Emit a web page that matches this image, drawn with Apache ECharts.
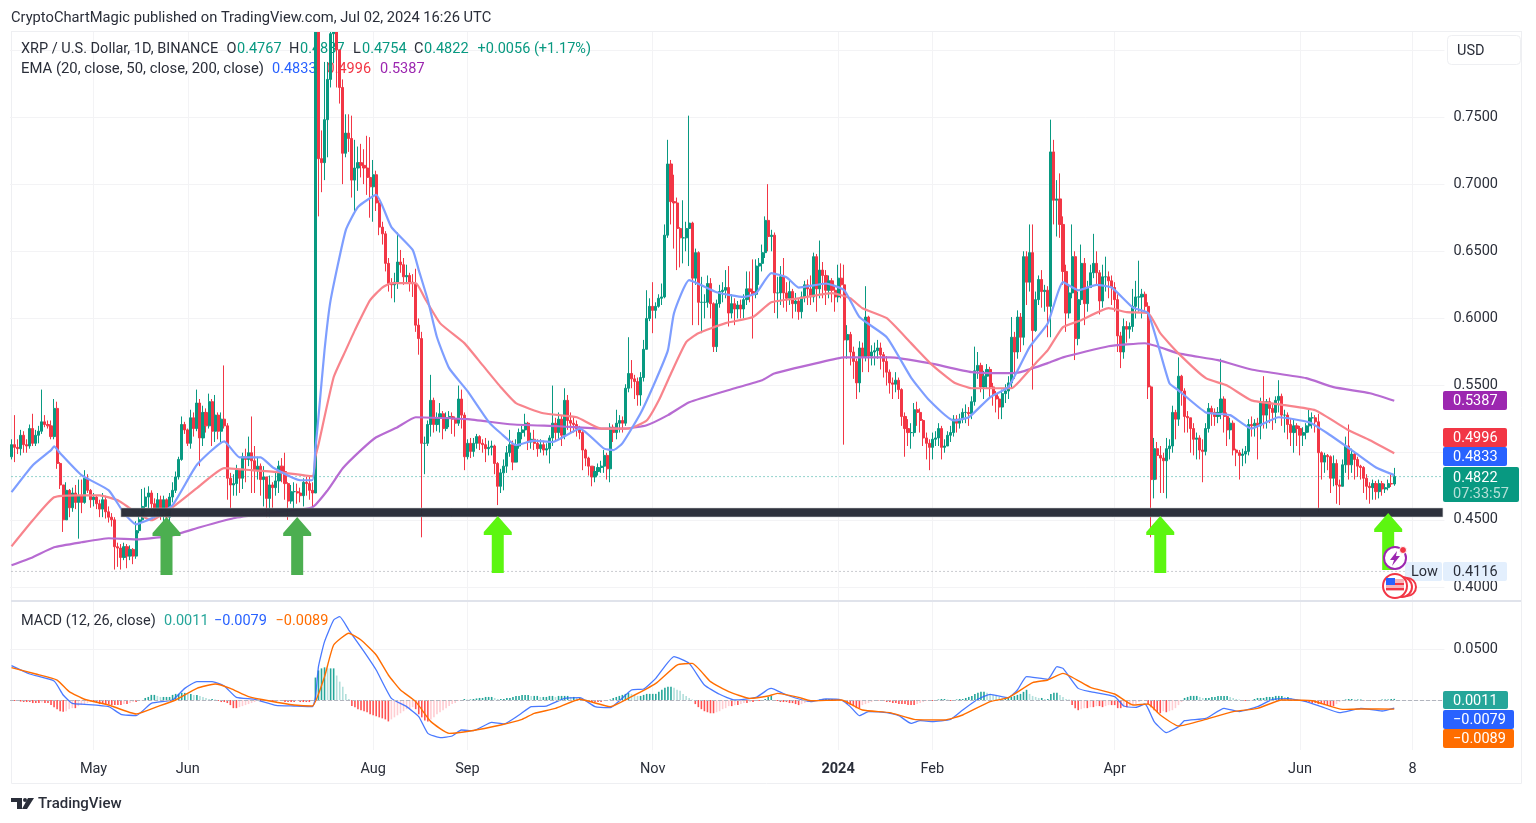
<!DOCTYPE html>
<html>
<head>
<meta charset="utf-8">
<title>XRP / U.S. Dollar</title>
<script src="https://cdn.jsdelivr.net/npm/echarts@6/dist/echarts.min.js"></script>
<style>
  html, body { margin: 0; padding: 0; background: #fff; }
  #chart { width: 1536px; height: 823px; }
</style>
</head>
<body>
<div id="chart"></div>
<script>
// tick dates on the time scale
const tickDates = ['2023-05-01','2023-06-01','2023-08-01','2023-09-01','2023-11-01','2024-01-01','2024-02-01','2024-04-01','2024-06-01','2024-07-08'];
const tickLabels = ['May','Jun','Aug','Sep','Nov','{y|2024}','Feb','Apr','Jun','8'];
const priceTicks = [0.40,0.45,0.50,0.55,0.60,0.65,0.70,0.75,0.80];
const priceLabels = [0.40,0.45,0.55,0.60,0.65,0.70,0.75];
const macdTicks = [0,0.05];

// daily candles, one entry per day from 2023-04-04 to 2024-07-02
const opens = [
.497,.506,.504,.503,.513,.506,.505,.518,.507,.513,
.516,.523,.521,.520,.512,.533,.492,.476,.450,.472,
.459,.470,.463,.468,.463,.481,.472,.465,.467,.462,
.458,.465,.456,.452,.450,.430,.429,.422,.430,.423,
.428,.423,.442,.450,.460,.467,.470,.462,.457,.465,
.455,.465,.452,.467,.472,.482,.495,.521,.517,.507,
.526,.518,.537,.511,.530,.520,.538,.516,.528,.516,
.525,.520,.481,.476,.477,.487,.481,.497,.495,.500,
.494,.487,.490,.480,.482,.466,.476,.474,.479,.490,
.486,.477,.464,.471,.471,.470,.468,.478,.477,.472,
.470,.815,.719,.716,.748,.778,.812,.830,.800,.772,
.723,.738,.734,.703,.712,.716,.714,.712,.705,.698,
.707,.686,.668,.663,.641,.626,.625,.627,.642,.640,
.631,.632,.627,.626,.595,.585,.507,.507,.521,.539,
.521,.526,.529,.518,.526,.527,.525,.522,.540,.528,
.497,.507,.501,.507,.512,.507,.506,.503,.504,.505,
.492,.475,.485,.490,.500,.506,.493,.505,.515,.517,
.522,.508,.510,.507,.503,.506,.502,.503,.511,.522,
.515,.525,.513,.539,.524,.522,.521,.518,.515,.502,
.496,.490,.482,.486,.489,.490,.498,.488,.519,.515,
.522,.524,.522,.548,.559,.555,.553,.543,.556,.577,
.600,.609,.606,.609,.615,.616,.662,.715,.687,.686,
.667,.660,.660,.667,.671,.630,.649,.612,.612,.612,
.626,.611,.579,.611,.620,.621,.623,.604,.611,.607,
.610,.607,.614,.622,.620,.618,.639,.641,.649,.673,
.661,.662,.619,.619,.631,.619,.615,.620,.611,.613,
.605,.616,.625,.622,.616,.646,.622,.636,.632,.621,
.628,.621,.616,.630,.625,.584,.588,.575,.568,.552,
.578,.571,.601,.572,.575,.576,.578,.573,.568,.560,
.552,.551,.554,.547,.527,.518,.515,.515,.532,.530,
.524,.511,.507,.504,.510,.511,.518,.504,.505,.513,
.515,.525,.522,.525,.530,.530,.529,.538,.561,.565,
.549,.557,.562,.549,.544,.540,.534,.544,.546,.552,
.586,.575,.601,.586,.646,.627,.649,.591,.614,.629,
.620,.621,.609,.724,.688,.689,.670,.635,.604,.619,
.646,.585,.614,.641,.611,.623,.634,.641,.634,.613,
.631,.631,.628,.623,.614,.587,.575,.594,.592,.594,
.609,.616,.616,.618,.609,.549,.480,.503,.498,.496,
.494,.503,.505,.530,.525,.557,.546,.527,.526,.518,
.510,.511,.502,.501,.518,.533,.530,.527,.530,.540,
.527,.517,.522,.502,.500,.498,.499,.501,.521,.520,
.522,.520,.538,.528,.538,.533,.530,.539,.542,.528,
.528,.521,.515,.520,.518,.513,.515,.520,.526,.526,
.523,.500,.493,.498,.497,.481,.492,.476,.475,.491,
.505,.491,.499,.495,.490,.489,.481,.475,.474,.477,
.471,.477,.473,.474,.477,.4767];
const closes = [
.506,.504,.503,.513,.506,.505,.518,.507,.513,.516,
.523,.521,.520,.512,.533,.492,.476,.450,.472,.459,
.470,.463,.468,.463,.481,.472,.465,.467,.462,.458,
.465,.456,.452,.450,.430,.429,.422,.430,.423,.428,
.423,.442,.450,.460,.467,.470,.462,.457,.465,.455,
.465,.452,.467,.472,.482,.495,.521,.517,.507,.526,
.518,.537,.511,.530,.520,.538,.516,.528,.516,.525,
.520,.481,.476,.477,.487,.481,.497,.495,.500,.494,
.487,.490,.480,.482,.466,.476,.474,.479,.490,.486,
.477,.464,.471,.471,.470,.468,.478,.477,.472,.470,
.815,.719,.716,.748,.778,.812,.830,.800,.772,.723,
.738,.734,.703,.712,.716,.714,.712,.705,.698,.707,
.686,.668,.663,.641,.626,.625,.627,.642,.640,.631,
.632,.627,.626,.595,.585,.507,.507,.521,.539,.521,
.526,.529,.518,.526,.527,.525,.522,.540,.528,.497,
.507,.501,.507,.512,.507,.506,.503,.504,.505,.492,
.475,.485,.490,.500,.506,.493,.505,.515,.517,.522,
.508,.510,.507,.503,.506,.502,.503,.511,.522,.515,
.525,.513,.539,.524,.522,.521,.518,.515,.502,.496,
.490,.482,.486,.489,.490,.498,.488,.519,.515,.522,
.524,.522,.548,.559,.555,.553,.543,.556,.577,.600,
.609,.606,.609,.615,.616,.662,.715,.687,.686,.667,
.660,.660,.667,.671,.630,.649,.612,.612,.612,.626,
.611,.579,.611,.620,.621,.623,.604,.611,.607,.610,
.607,.614,.622,.620,.618,.639,.641,.649,.673,.661,
.662,.619,.619,.631,.619,.615,.620,.611,.613,.605,
.616,.625,.622,.616,.646,.622,.636,.632,.621,.628,
.621,.616,.630,.625,.584,.588,.575,.568,.552,.578,
.571,.601,.572,.575,.576,.578,.573,.568,.560,.552,
.551,.554,.547,.527,.518,.515,.515,.532,.530,.524,
.511,.507,.504,.510,.511,.518,.504,.505,.513,.515,
.525,.522,.525,.530,.530,.529,.538,.561,.565,.549,
.557,.562,.549,.544,.540,.534,.544,.546,.552,.586,
.575,.601,.586,.646,.627,.649,.591,.614,.629,.620,
.621,.609,.724,.688,.689,.670,.635,.604,.619,.646,
.585,.614,.641,.611,.623,.634,.641,.634,.613,.631,
.631,.628,.623,.614,.587,.575,.594,.592,.594,.609,
.616,.616,.618,.609,.549,.480,.503,.498,.496,.494,
.503,.505,.530,.525,.557,.546,.527,.526,.518,.510,
.511,.502,.501,.518,.533,.530,.527,.530,.540,.527,
.517,.522,.502,.500,.498,.499,.501,.521,.520,.522,
.520,.538,.528,.538,.533,.530,.539,.542,.528,.528,
.521,.515,.520,.518,.513,.515,.520,.526,.526,.523,
.500,.493,.498,.497,.481,.492,.476,.475,.491,.505,
.491,.499,.495,.490,.489,.481,.475,.474,.477,.471,
.477,.473,.474,.477,.4767,.4822];
const highs = [
.510,.528,.510,.517,.516,.510,.521,.529,.517,.520,
.547,.528,.524,.524,.540,.538,.493,.476,.478,.473,
.474,.476,.480,.480,.487,.484,.473,.470,.468,.465,
.470,.468,.460,.455,.452,.433,.432,.433,.432,.431,
.429,.449,.457,.473,.474,.475,.472,.466,.470,.468,
.468,.466,.470,.478,.486,.497,.527,.523,.518,.532,
.530,.547,.540,.535,.533,.544,.540,.543,.530,.530,
.565,.522,.485,.484,.491,.487,.500,.503,.512,.527,
.505,.497,.492,.490,.482,.483,.478,.485,.494,.496,
.500,.478,.476,.478,.477,.474,.481,.482,.482,.478,
.938,.860,.740,.791,.791,.830,.850,.845,.800,.778,
.752,.752,.751,.733,.728,.730,.726,.736,.735,.718,
.710,.688,.672,.665,.645,.630,.634,.664,.651,.645,
.640,.634,.633,.637,.600,.590,.512,.524,.558,.541,
.530,.537,.531,.530,.531,.530,.527,.550,.547,.530,
.510,.511,.511,.514,.513,.510,.511,.509,.509,.506,
.493,.488,.495,.505,.517,.509,.510,.518,.520,.529,
.523,.515,.517,.510,.510,.509,.507,.513,.550,.526,
.530,.528,.548,.543,.530,.527,.524,.520,.516,.503,
.497,.490,.490,.492,.494,.502,.500,.522,.521,.532,
.528,.527,.551,.586,.569,.558,.556,.560,.584,.621,
.615,.627,.612,.618,.626,.670,.733,.718,.707,.690,
.668,.688,.672,.751,.672,.652,.650,.631,.618,.632,
.630,.612,.614,.625,.627,.636,.639,.618,.615,.613,
.614,.618,.635,.635,.644,.644,.645,.655,.676,.700,
.666,.664,.631,.639,.645,.627,.628,.622,.619,.615,
.620,.628,.629,.632,.649,.648,.658,.642,.636,.632,
.630,.625,.640,.641,.640,.595,.590,.579,.570,.583,
.582,.624,.602,.580,.582,.584,.582,.575,.572,.562,
.556,.560,.556,.548,.530,.525,.522,.537,.538,.533,
.525,.515,.510,.515,.516,.522,.520,.510,.516,.520,
.528,.528,.529,.533,.536,.534,.542,.579,.575,.567,
.561,.566,.564,.552,.546,.542,.547,.551,.557,.601,
.590,.606,.604,.650,.650,.670,.670,.620,.632,.636,
.625,.624,.748,.733,.703,.708,.676,.640,.625,.670,
.650,.620,.655,.645,.628,.640,.663,.650,.636,.640,
.646,.635,.632,.627,.618,.590,.600,.598,.597,.622,
.628,.643,.622,.620,.612,.550,.511,.508,.505,.500,
.511,.510,.535,.532,.571,.558,.548,.531,.526,.522,
.515,.513,.510,.522,.537,.535,.533,.534,.570,.542,
.530,.526,.524,.503,.502,.503,.505,.525,.527,.525,
.526,.541,.557,.540,.541,.536,.542,.554,.544,.532,
.530,.525,.525,.522,.520,.519,.522,.532,.530,.528,
.529,.501,.500,.499,.498,.498,.495,.480,.495,.512,
.521,.503,.500,.497,.491,.490,.484,.478,.480,.479,
.480,.479,.477,.480,.484,.4887];
const lows = [
.495,.493,.499,.498,.500,.500,.503,.505,.505,.507,
.514,.519,.518,.510,.510,.488,.473,.441,.450,.452,
.456,.458,.436,.455,.462,.470,.459,.460,.458,.452,
.452,.451,.448,.445,.413,.415,.413,.420,.414,.420,
.417,.421,.440,.448,.455,.458,.456,.450,.455,.450,
.449,.447,.445,.463,.470,.480,.494,.514,.505,.503,
.512,.516,.490,.505,.515,.518,.505,.508,.510,.508,
.518,.465,.458,.468,.468,.470,.473,.478,.490,.470,
.470,.480,.468,.460,.452,.452,.459,.468,.470,.478,
.465,.450,.462,.458,.462,.463,.460,.468,.465,.458,
.470,.676,.694,.703,.720,.772,.790,.772,.760,.700,
.720,.724,.690,.680,.695,.705,.700,.692,.675,.672,
.680,.662,.655,.635,.620,.615,.612,.622,.634,.625,
.627,.620,.616,.590,.573,.437,.484,.505,.512,.515,
.516,.515,.510,.516,.519,.514,.512,.520,.518,.487,
.495,.496,.497,.503,.502,.500,.493,.498,.498,.484,
.461,.470,.472,.485,.497,.487,.493,.503,.510,.512,
.502,.503,.502,.497,.500,.498,.498,.492,.505,.508,
.510,.505,.510,.517,.515,.515,.512,.510,.487,.490,
.483,.475,.478,.483,.485,.485,.480,.478,.508,.510,
.515,.515,.520,.545,.548,.540,.535,.535,.553,.577,
.598,.589,.600,.608,.610,.615,.660,.670,.652,.636,
.638,.641,.650,.639,.595,.625,.595,.589,.600,.608,
.600,.575,.575,.608,.612,.615,.594,.600,.595,.600,
.600,.600,.610,.612,.585,.615,.625,.635,.645,.650,
.650,.604,.600,.610,.608,.605,.610,.600,.605,.599,
.600,.612,.610,.610,.612,.605,.615,.615,.610,.615,
.612,.605,.612,.615,.506,.570,.565,.555,.540,.545,
.560,.568,.560,.565,.565,.570,.562,.556,.550,.544,
.540,.545,.540,.520,.497,.505,.503,.512,.520,.515,
.505,.495,.487,.495,.505,.505,.495,.500,.505,.508,
.512,.515,.518,.522,.522,.520,.525,.535,.555,.545,
.540,.548,.540,.535,.530,.525,.525,.537,.540,.548,
.555,.570,.575,.580,.610,.620,.547,.590,.610,.608,
.605,.586,.586,.670,.661,.660,.625,.590,.600,.615,
.569,.580,.610,.595,.605,.625,.630,.625,.603,.608,
.620,.615,.610,.605,.575,.563,.570,.582,.585,.590,
.600,.605,.600,.605,.540,.437,.466,.480,.470,.470,
.466,.495,.500,.510,.520,.535,.515,.515,.500,.498,
.495,.495,.478,.498,.515,.520,.520,.522,.525,.515,
.505,.510,.498,.490,.480,.490,.492,.498,.512,.512,
.495,.510,.518,.518,.522,.517,.522,.530,.520,.515,
.510,.505,.500,.505,.498,.505,.510,.515,.518,.515,
.456,.480,.485,.487,.470,.475,.462,.461,.475,.485,
.480,.485,.480,.482,.480,.470,.465,.462,.465,.465,
.466,.468,.470,.472,.4745,.4754];

// EMA lines, read at the day offsets listed beside them
const ema20Days = [0,7,13,14,16,23,32,37,41,46,53,61,70,75,82,86,95,99,100,101,103,105,110,114,120,125,132,134,137,140,144,150,157,161,166,172,178,187,195,198,201,207,212,216,218,223,232,241,245,250,255,259,268,274,279,288,296,302,310,315,322,328,335,341,346,351,357,362,369,374,381,384,393,401,408,417,427,433,442,449,455];
const ema20 = [.4706,.4907,.5019,.5048,.4996,.4833,.472,.455,.4467,.451,.461,.491,.5085,.4966,.4966,.489,.4795,.4795,.503,.5264,.5764,.6136,.6658,.683,.692,.668,.651,.636,.6136,.586,.563,.546,.523,.5145,.5056,.509,.508,.518,.503,.5019,.507,.5294,.554,.5764,.604,.6285,.6195,.616,.6188,.6337,.6307,.623,.626,.621,.601,.586,.556,.539,.524,.5264,.5413,.5488,.5786,.5965,.627,.621,.625,.623,.608,.604,.5518,.5465,.53,.528,.518,.5264,.5227,.5145,.5003,.489,.4833];
const ema50Days = [0,7,14,22,29,35,40,46,53,61,70,79,88,99,100,101,106,110,113,118,122,125,133,136,141,149,155,161,166,175,186,194,203,209,213,217,222,226,235,244,250,259,270,276,280,288,296,303,310,316,329,332,337,341,346,352,361,367,374,378,384,393,400,408,419,429,440,447,455];
const ema50 = [.4303,.4497,.4668,.4683,.4683,.4646,.457,.4497,.4594,.4736,.4885,.487,.4855,.4825,.497,.506,.5562,.5764,.5913,.6136,.623,.6263,.6263,.615,.5965,.5816,.5652,.5488,.5369,.5294,.5264,.518,.518,.524,.539,.559,.5823,.589,.5965,.601,.612,.615,.6188,.615,.6076,.6002,.5816,.5652,.5525,.548,.548,.554,.5667,.5764,.5935,.5987,.6076,.6047,.604,.589,.574,.5555,.55,.539,.5354,.5316,.5167,.5093,.4996];
const ema200Days = [0,7,14,23,32,42,53,62,73,84,99,104,109,115,120,127,133,150,164,180,194,202,209,216,223,238,247,251,265,274,289,302,316,328,332,341,346,361,373,384,397,408,426,435,447,455];
const ema200 = [.4162,.4222,.4296,.4333,.4363,.4355,.4385,.4445,.4512,.4549,.4594,.472,.4884,.5019,.5115,.519,.5264,.525,.5212,.5197,.518,.518,.5205,.528,.5376,.548,.554,.559,.5667,.571,.571,.5667,.56,.5592,.56,.5667,.571,.5793,.5815,.574,.5689,.562,.5555,.5488,.5443,.5387];

// MACD lines
const macdDays = [0,6,14,17,20,24,32,36,41,46,53,57,61,66,70,74,80,87,93,99,100,101,103,106,108,111,116,120,125,130,134,137,141,145,148,152,158,162,167,171,176,182,187,192,197,204,208,212,218,223,228,233,238,245,249,250,255,263,268,273,276,279,282,288,292,296,299,303,309,313,318,322,328,331,334,341,344,346,351,355,363,366,370,373,376,380,384,386,393,399,404,410,415,420,426,431,437,444,451,455];
const macdLine = [.0337,.0255,.0186,.0049,-.0033,-.0042,-.0065,-.014,-.0154,-.0033,0,.0114,.018,.018,.0137,.0026,.0007,-.0052,-.0059,-.0065,.002,.0327,.0572,.0784,.0817,.0686,.0474,.0294,.0016,-.0065,-.0163,-.0327,-.0369,-.0353,-.0294,-.0301,-.0219,-.0235,-.0147,-.0065,-.0059,.0016,.0023,-.0065,-.0075,.0098,.0108,.0212,.0425,.0359,.0147,.0056,0,.0026,.0105,.0114,.0049,-.0016,.001,0,-.0065,-.0154,-.0114,-.0124,-.0154,-.0229,-.0203,-.0212,-.019,-.0098,.0007,.0056,.0023,.0098,.0229,.0203,.0327,.031,.0114,.0082,.0033,-.0059,-.0072,-.0039,-.0212,-.032,-.0261,-.0203,-.018,-.0082,-.0114,-.0065,.0007,.0013,-.0016,-.0065,-.0124,-.0082,-.0108,-.0079];
const signalDays = [0,8,15,19,24,32,41,48,54,61,67,72,78,85,93,99,103,106,111,115,120,124,128,133,138,144,151,161,168,172,179,187,197,204,212,219,224,230,236,243,249,252,259,263,273,280,289,297,307,313,322,328,336,341,346,355,363,369,374,378,384,393,402,410,418,428,438,444,455];
const signalLine = [.0317,.0255,.0196,.0082,.0007,-.0049,-.0137,-.0065,0,.0114,.0157,.0114,.0033,-.001,-.0049,-.0059,.0229,.0539,.0654,.0588,.0441,.0245,.0098,-.0016,-.0212,-.0327,-.0304,-.0245,-.019,-.0131,-.0082,.0007,-.0065,.0033,.0163,.0343,.0359,.018,.0082,.0016,.0039,.0065,.0026,-.0007,0,-.0098,-.0124,-.019,-.0196,-.0147,-.0016,.0023,.017,.0196,.0261,.0124,.0059,-.0049,-.0039,-.0147,-.0255,-.019,-.0114,-.0082,0,-.0007,-.0092,-.0088,-.0089];
const histogram = [
-.0005,-.001,-.001,-.0015,-.002,-.002,-.002,-.003,-.003,-.003,
-.0025,-.003,-.003,-.005,-.007,-.009,-.011,-.0115,-.011,-.009,
-.008,-.008,-.006,-.005,-.004,-.003,-.002,-.002,-.003,-.004,
-.004,-.004,-.004,-.005,-.005,-.005,-.005,-.004,-.004,-.003,
-.002,-.002,-.001,-.0005,.002,.003,.005,.005,.004,.003,
.003,.003,.003,.005,.006,.006,.007,.007,.006,.006,
.005,.005,.004,.003,.002,.001,.001,.0005,-.001,-.002,
-.002,-.003,-.005,-.008,-.008,-.007,-.006,-.005,-.004,-.003,
-.002,-.001,-.001,-.001,-.0005,-.001,-.001,-.0015,-.001,-.001,
-.002,-.002,-.002,-.002,-.001,-.002,-.002,-.002,-.002,-.001,
.022,.029,.031,.032,.031,.031,.031,.024,.018,.013,
.006,.001,-.006,-.007,-.009,-.010,-.011,-.012,-.014,-.015,
-.016,-.017,-.018,-.019,-.021,-.019,-.017,-.015,-.013,-.011,
-.009,-.008,-.007,-.009,-.014,-.017,-.020,-.021,-.019,-.017,
-.014,-.012,-.010,-.008,-.006,-.004,-.003,-.001,-.0005,.001,
.0005,.0005,.001,.0015,.002,.002,.003,.003,.003,.002,
.001,.001,.001,.002,.002,.003,.004,.004,.005,.005,
.005,.004,.004,.004,.003,.003,.003,.004,.004,.003,
.004,.004,.004,.004,.003,.003,.002,.002,.001,.0005,
-.001,-.002,-.002,-.002,-.002,-.001,-.001,.0005,.002,.003,
.004,.005,.006,.007,.006,.005,.004,.004,.005,.006,
.006,.006,.006,.008,.010,.012,.013,.013,.012,.010,
.009,.006,.004,.002,.0005,-.004,-.007,-.009,-.011,-.012,
-.013,-.013,-.012,-.011,-.009,-.008,-.006,-.006,-.005,-.005,
-.004,-.003,-.003,-.002,-.002,-.001,-.001,-.0005,.001,.003,
.004,-.001,-.001,-.002,-.002,-.002,-.003,-.003,-.004,-.005,
-.004,-.003,-.002,-.001,-.001,-.0005,.0005,.0005,.001,.001,
.001,.0005,.0005,-.0005,-.002,-.004,-.005,-.006,-.008,-.008,
-.005,-.004,-.003,-.002,-.001,-.001,-.001,-.001,-.002,-.002,
-.003,-.003,-.004,-.004,-.004,-.005,-.005,-.005,-.004,-.003,
-.002,-.001,-.001,-.001,-.0005,.0005,.001,.001,.0005,-.001,
-.001,.0005,.001,.001,.002,.003,.004,.006,.007,.008,
.008,.007,.006,.005,.004,.003,.002,.002,.002,.003,
.004,.005,.006,.008,.010,.006,.004,.003,.002,.002,
.001,.001,.006,.007,.007,.005,.003,.001,.0005,-.005,
-.008,-.010,-.009,-.008,-.008,-.007,-.007,-.006,-.006,-.007,
-.006,-.005,-.005,-.005,-.008,-.008,-.007,-.007,-.006,-.005,
-.004,-.002,-.001,-.0005,-.004,-.007,-.010,-.012,-.013,-.011,
-.012,-.011,-.010,-.008,-.005,-.002,.002,.003,.004,.004,
.004,.003,.002,.002,.002,.003,.003,.004,.004,.004,
.004,.003,.002,.001,.0005,-.0005,-.001,-.001,-.0005,.001,
.002,.002,.002,.003,.003,.003,.004,.004,.004,.003,
.003,.002,.001,.0005,-.0005,-.001,-.002,-.002,-.003,-.003,
-.004,-.004,-.005,-.005,-.006,-.006,-.004,-.002,-.0005,.0005,
.001,.001,.0005,.0005,.0005,-.0005,-.001,-.001,-.001,-.0005,
-.0005,.0005,.0005,.0005,.001,.0011];

// drawn-on annotations: support band, arrows, reference lines
const supportBandStart = 36;
const supportBandEnd = 471;
const supportBandTop = 0.4588;
const supportBandBottom = 0.4522;
const arrowDays = [51,94,160,378,453];
const arrowTips = [.4522,.4522,.4529,.4529,.4551];
const arrowTails = [.4089,.4089,.4104,.4104,.4126];
const arrowColors = ['#4caf50','#4caf50','#5cf610','#5cf610','#5cf610'];
const lastPrice = 0.4822;
const lowPrice = 0.4116;

// day list of the time scale runs a little past the last candle
const categories = [];
for (let d = new Date(Date.UTC(2023, 3, 4)); categories.length < 472; d.setUTCDate(d.getUTCDate() + 1)) {
  categories.push(d.toISOString().slice(0, 10));
}

const UP = '#089981';
const DOWN = '#f23645';
const TEXT = '#2a2e39';
const FONT = 'Roboto, sans-serif';
const FS = 14.5;
const GRID = '#f3f3f5';

const isTick = (idx, value) => tickDates.includes(value);

const candles = opens.map((o, i) => [o, closes[i], lows[i], highs[i]]);
const pairs = (days, values) => days.map((d, i) => [d, values[i]]);
const lastDay = categories.length - 1;

const histColor = (i) => {
  const v = histogram[i];
  const prev = i > 0 ? histogram[i - 1] : v;
  if (v >= 0) return v >= prev ? '#26a69a' : '#b2dfdb';
  return v <= prev ? '#ff5252' : '#ffcdd2';
};

const xAxisBase = {
  type: 'category',
  data: categories,
  boundaryGap: true,
  axisLine: { show: false },
  axisTick: { show: false, alignWithLabel: true, interval: isTick },
  splitLine: { show: true, alignWithLabel: true, interval: isTick, lineStyle: { color: GRID, width: 1 } }
};

// small helpers for the text and tags around the chart
const label = (x, y, text, fill, size) => ({
  type: 'text', x, y: y + 1, z: 1, silent: true,
  style: { text, fontFamily: FONT, fontSize: size || FS, fill: fill || TEXT, textVerticalAlign: 'middle' }
});
const tag = (x, y, w, h, color, text, textColor) => [
  { type: 'rect', z: 20, silent: true, shape: { x, y, width: w, height: h, r: 2 }, style: { fill: color } },
  { type: 'text', z: 21, silent: true, x: x + 10, y: y + h / 2 + 1,
    style: { text, fontFamily: FONT, fontSize: FS, fill: textColor || '#fff', textVerticalAlign: 'middle' } }
];

const graphics = [
  // candlesticks do not clip their wicks, so cover everything above the pane
  { type: 'rect', z: 10, silent: true, shape: { x: 0, y: 0, width: 1536, height: 31 }, style: { fill: '#fff' } },
  { type: 'line', z: 11, silent: true, shape: { x1: 11, y1: 31.5, x2: 1522, y2: 31.5 }, style: { stroke: '#eeeff2', lineWidth: 1 } },
  // frame and pane divider
  { type: 'rect', z: 0, silent: true, shape: { x: 11.5, y: 31.5, width: 1510, height: 752 }, style: { fill: 'none', stroke: '#eeeff2', lineWidth: 1 } },
  { type: 'line', z: 3, silent: true, shape: { x1: 11, y1: 601, x2: 1521, y2: 601 }, style: { stroke: '#e0e3eb', lineWidth: 2 } },
  Object.assign(label(11, 17, 'CryptoChartMagic published on TradingView.com, Jul 02, 2024 16:26 UTC', TEXT, 14.7), { z: 12 }),
  // OHLC legend
  label(21, 48, 'XRP / U.S. Dollar, 1D, BINANCE'),
  label(226.5, 48, 'O'), label(237, 48, '0.4767', UP),
  label(289, 48, 'H'), label(300, 48, '0.4887', UP),
  label(353, 48, 'L'), label(362, 48, '0.4754', UP),
  label(414, 48, 'C'), label(424, 48, '0.4822', UP),
  label(477.5, 48, '+0.0056 (+1.17%)', UP),
  // EMA legend
  label(21, 68, 'EMA (20, close, 50, close, 200, close)', TEXT, 14.87),
  label(272, 68, '0.4833', '#2962ff'),
  label(326.5, 68, '0.4996', DOWN),
  label(380, 68, '0.5387', '#9c27b0'),
  // MACD legend
  label(21, 620, 'MACD (12, 26, close)'),
  label(164, 620, '0.0011', '#26a69a'),
  label(214, 620, '\u22120.0079', '#2962ff'),
  label(275.5, 620, '\u22120.0089', '#ff6d00'),
  // USD button
  { type: 'rect', z: 20, silent: true, shape: { x: 1447.5, y: 35.5, width: 73, height: 29, r: 4 }, style: { fill: '#fff', stroke: '#eeeff2' } },
  { type: 'text', z: 21, silent: true, x: 1457, y: 51, style: { text: 'USD', fontFamily: FONT, fontSize: FS, fill: TEXT, textVerticalAlign: 'middle' } },
  // value tags on the price scale
  ...tag(1443, 391, 64, 19, '#9c27b0', '0.5387'),
  ...tag(1443, 428, 64, 19, DOWN, '0.4996'),
  ...tag(1443, 447, 64, 19, '#2962ff', '0.4833'),
  { type: 'rect', z: 20, silent: true, shape: { x: 1443, y: 467, width: 76, height: 35, r: 2 }, style: { fill: UP } },
  { type: 'text', z: 21, silent: true, x: 1453, y: 478, style: { text: '0.4822', fontFamily: FONT, fontSize: FS, fill: '#fff', textVerticalAlign: 'middle' } },
  { type: 'text', z: 21, silent: true, x: 1453, y: 494, style: { text: '07:33:57', fontFamily: FONT, fontSize: FS, fill: '#b5e0d7', textVerticalAlign: 'middle' } },
  ...tag(1443, 562, 64, 19, '#e3effd', '0.4116', TEXT),
  { type: 'rect', z: 20, silent: true, shape: { x: 1405, y: 562, width: 37, height: 19, r: 2 }, style: { fill: '#e3effd' } },
  { type: 'text', z: 21, silent: true, x: 1411, y: 572.5, style: { text: 'Low', fontFamily: FONT, fontSize: FS, fill: TEXT, textVerticalAlign: 'middle' } },
  ...tag(1443, 691, 65, 18, '#26a69a', '0.0011'),
  ...tag(1443, 710, 71, 19, '#2962ff', '\u22120.0079'),
  ...tag(1443, 729, 71, 19, '#ff6d00', '\u22120.0089'),
  // event badges
  { type: 'circle', z: 22, silent: true, shape: { cx: 1395, cy: 558, r: 11 }, style: { fill: '#fff', stroke: '#9c27b0', lineWidth: 2 } },
  { type: 'polygon', z: 23, silent: true, shape: { points: [[1397,551],[1390,560],[1394,560],[1392,566],[1400,556],[1396,556]] }, style: { fill: '#9c27b0' } },
  { type: 'circle', z: 23, silent: true, shape: { cx: 1403, cy: 550, r: 3.5 }, style: { fill: '#f23645', stroke: '#fff', lineWidth: 1 } },
  { type: 'circle', z: 22, silent: true, shape: { cx: 1407, cy: 587, r: 9 }, style: { fill: '#fff', stroke: '#f23645', lineWidth: 2 } },
  { type: 'circle', z: 22, silent: true, shape: { cx: 1402, cy: 587, r: 10 }, style: { fill: '#fff', stroke: '#f23645', lineWidth: 2 } },
  { type: 'circle', z: 22, silent: true, shape: { cx: 1395, cy: 586, r: 12 }, style: { fill: '#fff', stroke: '#f23645', lineWidth: 2 } },
  { type: 'rect', z: 23, silent: true, shape: { x: 1386, y: 579, width: 18, height: 12 }, style: { fill: '#f6b3b8' } },
  { type: 'rect', z: 23, silent: true, shape: { x: 1386, y: 583, width: 18, height: 2 }, style: { fill: '#f23645' } },
  { type: 'rect', z: 23, silent: true, shape: { x: 1386, y: 588, width: 18, height: 2 }, style: { fill: '#f23645' } },
  { type: 'rect', z: 24, silent: true, shape: { x: 1386, y: 578, width: 9, height: 7 }, style: { fill: '#2962ff' } },
  // TradingView mark
  { type: 'polygon', z: 3, silent: true, shape: { points: [[11,798],[22,798],[22,809],[17,809],[17,802],[11,802]] }, style: { fill: TEXT } },
  { type: 'circle', z: 3, silent: true, shape: { cx: 25, cy: 800, r: 2 }, style: { fill: TEXT } },
  { type: 'polygon', z: 3, silent: true, shape: { points: [[28,798],[34,798],[27,809],[22,809]] }, style: { fill: TEXT } },
  { type: 'text', z: 3, silent: true, x: 38, y: 804, style: { text: 'TradingView', fontFamily: FONT, fontSize: 15, fontWeight: 500, fill: TEXT, textVerticalAlign: 'middle' } }
];

const chart = echarts.init(document.getElementById('chart'), null, { renderer: 'canvas' });

chart.setOption({
  animation: false,
  backgroundColor: '#fff',
  textStyle: { fontFamily: FONT },
  grid: [
    { left: 10, width: 1434.4, top: 31, height: 570 },
    { left: 10, width: 1434.4, top: 601, height: 149 }
  ],
  xAxis: [
    Object.assign({}, xAxisBase, { gridIndex: 0, axisLabel: { show: false } }),
    Object.assign({}, xAxisBase, {
      gridIndex: 1,
      axisLabel: {
        show: true,
        interval: isTick,
        margin: 12,
        color: TEXT,
        fontSize: FS,
        fontFamily: FONT,
        hideOverlap: false,
        formatter: (value) => tickLabels[tickDates.indexOf(value)],
        rich: { y: { fontWeight: 'bold', fontSize: FS, color: TEXT, fontFamily: FONT } }
      }
    })
  ],
  yAxis: [
    {
      type: 'value', gridIndex: 0, position: 'right',
      min: 0.38958, max: 0.81404,
      axisLine: { show: false },
      axisTick: { show: false, customValues: priceTicks },
      splitLine: { show: true, lineStyle: { color: GRID, width: 1 } },
      axisLabel: { customValues: priceLabels, margin: 9, padding: [5, 0, 0, 0], color: TEXT, fontSize: FS, fontFamily: FONT, formatter: (v) => v.toFixed(4) }
    },
    {
      type: 'value', gridIndex: 1, position: 'right',
      min: -0.04902, max: 0.09706,
      axisLine: { show: false },
      axisTick: { show: false, customValues: macdTicks },
      splitLine: { show: true, lineStyle: { color: GRID, width: 1 } },
      axisLabel: { customValues: [0.05], margin: 9, padding: [5, 0, 0, 0], color: TEXT, fontSize: FS, fontFamily: FONT, formatter: (v) => v.toFixed(4) }
    }
  ],
  series: [
    {
      name: 'Last price', type: 'line', xAxisIndex: 0, yAxisIndex: 0, silent: true, showSymbol: false, z: 2,
      data: [[0, lastPrice], [lastDay, lastPrice]],
      lineStyle: { color: '#26a69a', type: [1, 3], width: 1 }
    },
    {
      name: 'Low', type: 'line', xAxisIndex: 0, yAxisIndex: 0, silent: true, showSymbol: false, z: 2,
      data: [[0, lowPrice], [lastDay, lowPrice]],
      lineStyle: { color: '#9598a1', type: [1, 3], width: 1 }
    },
    {
      name: 'XRP',
      type: 'candlestick',
      xAxisIndex: 0, yAxisIndex: 0,
      data: candles,
      barWidth: 2.6,
      z: 3,
      itemStyle: { color: UP, color0: DOWN, borderColor: UP, borderColor0: DOWN, borderWidth: 1 }
    },
    { name: 'EMA 200', type: 'line', xAxisIndex: 0, yAxisIndex: 0, data: pairs(ema200Days, ema200), showSymbol: false, smooth: 0.15, z: 4, lineStyle: { color: '#b76bd2', width: 2.2 } },
    { name: 'EMA 50', type: 'line', xAxisIndex: 0, yAxisIndex: 0, data: pairs(ema50Days, ema50), showSymbol: false, smooth: 0.15, z: 4, lineStyle: { color: '#f8848c', width: 2.2 } },
    {
      name: 'EMA 20', type: 'line', xAxisIndex: 0, yAxisIndex: 0, data: pairs(ema20Days, ema20), showSymbol: false, smooth: 0.15, z: 4, lineStyle: { color: '#7e9eff', width: 2.2 },
      markArea: {
        silent: true, z: 6,
        itemStyle: { color: '#2a2e39', opacity: 0.98, borderColor: '#c8c9cd', borderWidth: 0.5 },
        label: { show: false },
        data: [[{ xAxis: supportBandStart, yAxis: supportBandTop }, { xAxis: supportBandEnd, yAxis: supportBandBottom }]]
      }
    },
    {
      name: 'Arrows',
      type: 'custom',
      xAxisIndex: 0, yAxisIndex: 0,
      z: 7,
      clip: false,
      data: arrowDays.map((d, i) => [d, arrowTips[i], arrowTails[i]]),
      renderItem: (params, api) => {
        const tip = api.coord([api.value(0), api.value(1)]);
        const tail = api.coord([api.value(0), api.value(2)]);
        const x = tip[0];
        return {
          type: 'polygon',
          shape: { points: [[x, tip[1]], [x + 14, tip[1] + 16], [x + 14, tip[1] + 19], [x + 6, tip[1] + 19], [x + 6, tail[1]], [x - 6, tail[1]], [x - 6, tip[1] + 19], [x - 14, tip[1] + 19], [x - 14, tip[1] + 16]] },
          style: { fill: arrowColors[params.dataIndex] }
        };
      }
    },
    {
      name: 'Histogram',
      type: 'bar',
      xAxisIndex: 1, yAxisIndex: 1,
      data: histogram,
      barWidth: 1.6,
      z: 3,
      itemStyle: { color: (p) => histColor(p.dataIndex) },
      markLine: {
        silent: true, symbol: 'none', animation: false, label: { show: false },
        data: [{ yAxis: 0, lineStyle: { color: '#b2b5be', type: 'dashed', width: 1 } }]
      }
    },
    { name: 'MACD', type: 'line', xAxisIndex: 1, yAxisIndex: 1, data: pairs(macdDays, macdLine), showSymbol: false, smooth: 0.15, z: 4, lineStyle: { color: '#2962ff', width: 1.3, opacity: 0.85 } },
    { name: 'Signal', type: 'line', xAxisIndex: 1, yAxisIndex: 1, data: pairs(signalDays, signalLine), showSymbol: false, smooth: 0.15, z: 5, lineStyle: { color: '#ff6d00', width: 1.4 } }
  ],
  graphic: { elements: graphics }
});
</script>
</body>
</html>
